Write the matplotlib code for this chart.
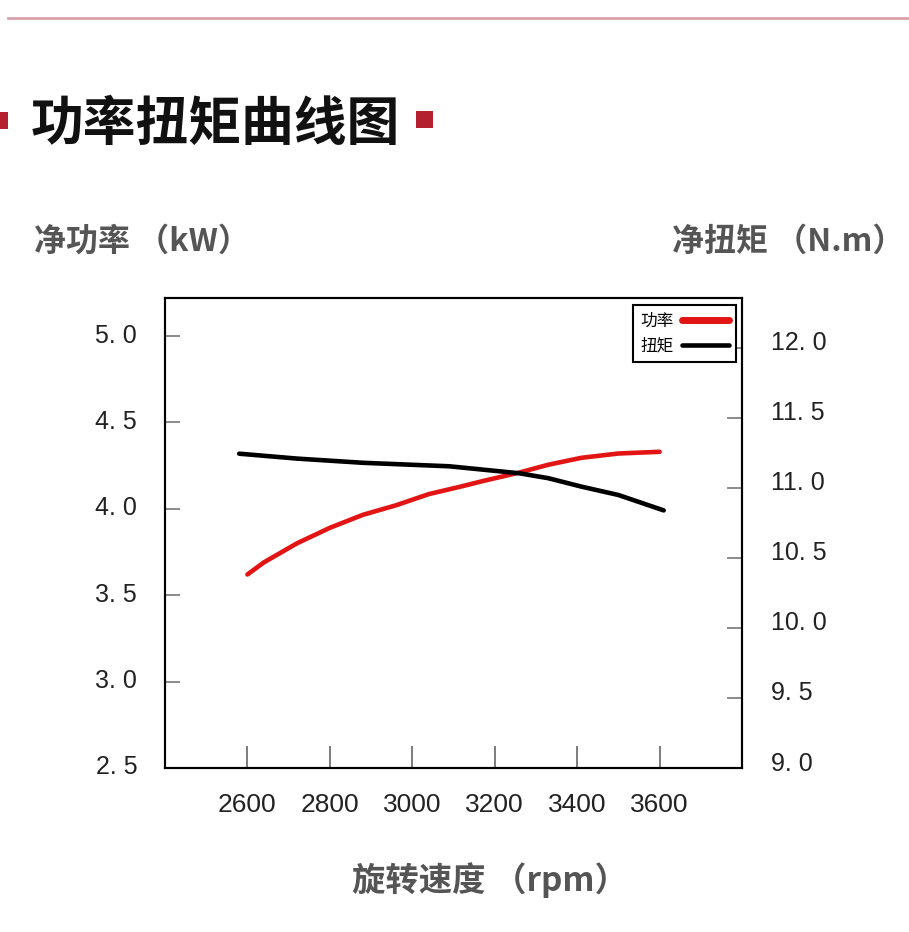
import matplotlib
matplotlib.use('Agg')
import matplotlib.pyplot as plt
import matplotlib.transforms as mtransforms
from matplotlib.patches import Rectangle
from matplotlib.lines import Line2D

plt.rcParams['font.family'] = ['Noto Sans CJK SC', 'DejaVu Sans']

# 功率 (kW) 读图数据
power_rpm = [2600, 2640, 2720, 2800, 2880, 2960, 3040, 3120, 3170, 3260, 3330, 3410, 3500, 3600]
power_kw = [3.62, 3.69, 3.80, 3.89, 3.965, 4.02, 4.085, 4.13, 4.16, 4.21, 4.255, 4.295, 4.32, 4.33]

# 扭矩 (N.m) 读图数据
torque_rpm = [2580, 2720, 2880, 3090, 3260, 3330, 3410, 3500, 3610]
torque_nm = [11.245, 11.21, 11.18, 11.155, 11.105, 11.07, 11.01, 10.95, 10.84]

x_ticks = [2600, 2800, 3000, 3200, 3400, 3600]
left_ticks = [2.5, 3.0, 3.5, 4.0, 4.5, 5.0]
right_ticks = [9.0, 9.5, 10.0, 10.5, 11.0, 11.5, 12.0]

RED = '#e31414'
GREY = '#555555'
NUM_FONT = ['Liberation Sans', 'DejaVu Sans']

fig = plt.figure(figsize=(9.09, 9.32), dpi=100)
fig.patch.set_facecolor('white')

# 顶部装饰线和标题
fig.add_artist(Line2D([8 / 909, 1.0], [1 - 18 / 932] * 2, color='#d8a0a8', lw=2))
fig.add_artist(Rectangle((0, 1 - 129 / 932), 8 / 909, 17 / 932, color='#b5202e', lw=0))
fig.add_artist(Rectangle((416 / 909, 1 - 128 / 932), 17 / 909, 17 / 932, color='#b5202e', lw=0))
fig.text(31 / 909, 1 - 124 / 932, '功率扭矩曲线图', fontsize=38, fontweight='bold',
         color='#111111', ha='left', va='center')

fig.text(34 / 909, 1 - 242 / 932, '净功率 （kW）', fontsize=23, fontweight='bold',
         color=GREY, ha='left', va='center')
fig.text(672 / 909, 1 - 242 / 932, '净扭矩 （N.m）', fontsize=23, fontweight='bold',
         color=GREY, ha='left', va='center')
fig.text(490 / 909, 1 - 880 / 932, '旋转速度 （rpm）', fontsize=24, fontweight='bold',
         color=GREY, ha='center', va='center')

ax = fig.add_axes([165 / 909, 1 - 768 / 932, 577 / 909, 470 / 932])
ax2 = ax.twinx()

l1, = ax.plot(power_rpm, power_kw, color=RED, lw=3.3, solid_capstyle='round')
l2, = ax2.plot(torque_rpm, torque_nm, color='black', lw=3.3, solid_capstyle='round')

ax.set_xlim(2400, 3800)
ax.set_ylim(2.5, 5.22)
ax2.set_ylim(9.0, 12.357)

ax.set_xticks(x_ticks)
ax.set_xticklabels([str(v) for v in x_ticks], family=NUM_FONT, fontsize=19, color='#222222')
ax.set_yticks(left_ticks)
ax.set_yticklabels([f'{v:.1f}'.replace('.', '. ') for v in left_ticks],
                   family=NUM_FONT, fontsize=18, color='#222222')
ax2.set_yticks(right_ticks)
ax2.set_yticklabels([f'{v:.1f}'.replace('.', '. ') for v in right_ticks],
                    family=NUM_FONT, fontsize=18, color='#222222')

ax.tick_params(axis='x', direction='in', length=16, width=1.2, color='#666666', pad=18)
ax.tick_params(axis='y', direction='in', length=11, width=1.2, color='#777777', pad=20)
ax2.tick_params(axis='y', direction='in', length=11, width=1.2, color='#777777', pad=21)

# 标签略微上移，与原图一致
up_l = mtransforms.ScaledTranslation(0, 3 / 100, fig.dpi_scale_trans)
up_r = mtransforms.ScaledTranslation(0, 7 / 100, fig.dpi_scale_trans)
for lab in ax.get_yticklabels():
    lab.set_transform(lab.get_transform() + up_l)
for lab in ax2.get_yticklabels():
    lab.set_transform(lab.get_transform() + up_r)

for a in (ax, ax2):
    for s in a.spines.values():
        s.set_linewidth(1.5)
        s.set_color('black')

leg = ax2.legend([l1, l2], ['功率', '扭矩'], loc='upper right',
                 bbox_to_anchor=(0.99, 0.985), markerfirst=False, fontsize=12,
                 handlelength=2.8, handletextpad=0.5, borderpad=0.45,
                 labelspacing=0.5, fancybox=False, framealpha=1,
                 edgecolor='black', borderaxespad=0)
leg.get_frame().set_linewidth(1.5)
leg.get_lines()[0].set_linewidth(5)

fig.savefig('out.png', dpi=100, facecolor='white')
